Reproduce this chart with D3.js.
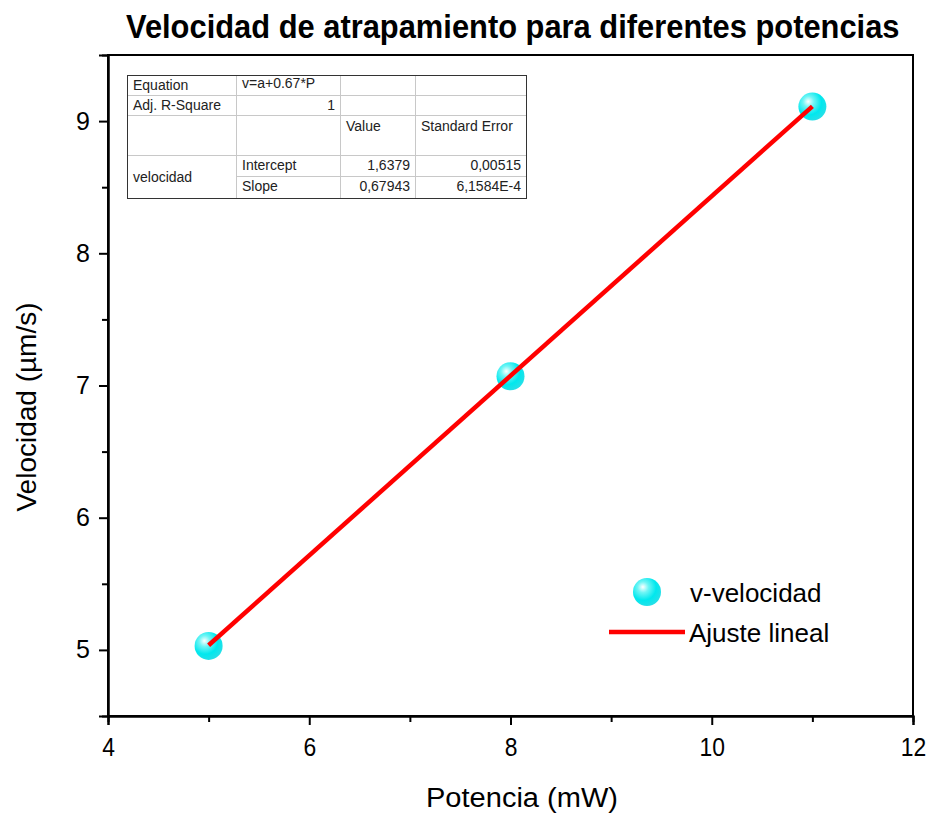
<!DOCTYPE html>
<html>
<head>
<meta charset="utf-8">
<script src="https://cdn.jsdelivr.net/npm/d3@7"></script>
<style>
  body { margin: 0; background: #fff; }
  text { font-family: "Liberation Sans", Arial, sans-serif; }
</style>
</head>
<body>
<div id="chart-area"></div>
<script>
// datos
var potencia = [5, 8, 11];
var velocidad = [5.03, 7.07, 9.11];
var intercepto = 1.6379;
var pendiente = 0.67943;
var xTicks = [4, 6, 8, 10, 12];
var yTicks = [5, 6, 7, 8, 9];
var tablaFilas = [
    ["Equation", "v=a+0.67*P", "", ""],
    ["Adj. R-Square", "1", "", ""],
    ["", "", "Value", "Standard Error"],
    ["velocidad", "Intercept", "1,6379", "0,00515"],
    ["", "Slope", "0,67943", "6,1584E-4"]
];

var margin = { top: 55, right: 18, bottom: 98, left: 108 };
var width = 931 - margin.left - margin.right;
var height = 814 - margin.top - margin.bottom;

var svg = d3.select("#chart-area")
    .append("svg")
        .attr("width", 931)
        .attr("height", 814);

// gradiente para las esferas
var grad = svg.append("defs").append("radialGradient")
    .attr("id", "esfera")
    .attr("cx", "38%").attr("cy", "35%").attr("r", "65%")
    .attr("fx", "35%").attr("fy", "32%");
grad.append("stop").attr("offset", "0%").attr("stop-color", "#ffffff");
grad.append("stop").attr("offset", "30%").attr("stop-color", "#6ff5f5");
grad.append("stop").attr("offset", "70%").attr("stop-color", "#00e8ee");
grad.append("stop").attr("offset", "100%").attr("stop-color", "#22e0e8");

var group = svg.append("g")
    .attr("transform", "translate(" + margin.left + ", " + margin.top + ")");

var x = d3.scaleLinear().domain([4, 12]).range([0, width]);
var y = d3.scaleLinear().domain([4.5, 9.5]).range([height, 0]);

// Titulo (estreitado com scale para imitar a fonte condensada)
var titulo = svg.append("text")
    .attr("font-size", "33px")
    .attr("font-weight", "bold")
    .text("Velocidad de atrapamiento para diferentes potencias");
var largura = titulo.node().getComputedTextLength();
titulo.attr("transform", "translate(126, 38) scale(" + (774 / largura) + ", 1)");

// Marco
group.append("rect")
    .attr("x", 0).attr("y", 0)
    .attr("width", width).attr("height", height)
    .attr("fill", "none")
    .attr("stroke", "#000")
    .attr("stroke-width", 2);

// Eixos
var xAxisCall = d3.axisBottom(x).tickValues(xTicks).tickSize(9).tickPadding(9).tickFormat(d3.format("d"));
var xAxisGroup = group.append("g")
    .attr("class", "x-axis")
    .attr("transform", "translate(0, " + height + ")")
    .call(xAxisCall);
var xMinor = d3.axisBottom(x).tickValues([5, 7, 9, 11]).tickSize(6).tickFormat("");
group.append("g").attr("transform", "translate(0, " + height + ")").call(xMinor);

var yAxisCall = d3.axisLeft(y).tickValues(yTicks).tickSize(9).tickPadding(9).tickFormat(d3.format("d"));
var yAxisGroup = group.append("g")
    .attr("class", "y-axis")
    .call(yAxisCall);
var yMinor = d3.axisLeft(y).tickValues([5.5, 6.5, 7.5, 8.5]).tickSize(6).tickFormat("");
group.append("g").call(yMinor);

group.selectAll(".domain").attr("stroke-width", 2);
group.selectAll(".tick line").attr("stroke-width", 2);
group.selectAll(".tick text")
    .attr("font-size", "26px")
    .attr("font-family", "'Liberation Sans', Arial, sans-serif")
    .attr("fill", "#000");
xAxisGroup.selectAll(".tick text")
    .attr("dy", "0.85em")
    .each(function() {
        var w = this.getComputedTextLength();
        d3.select(this).attr("textLength", w * 0.88).attr("lengthAdjust", "spacingAndGlyphs");
    });
yAxisGroup.selectAll(".tick text").attr("font-size", "25px");

// Labels
svg.append("text")
    .attr("x", 522)
    .attr("y", 807)
    .attr("text-anchor", "middle")
    .attr("font-size", "27px")
    .attr("textLength", 192)
    .attr("lengthAdjust", "spacingAndGlyphs")
    .text("Potencia (mW)");

svg.append("text")
    .attr("transform", "translate(36, 407) rotate(-90)")
    .attr("text-anchor", "middle")
    .attr("font-size", "28px")
    .text("Velocidad (µm/s)");

// Linha de ajuste
var xAjuste = [d3.min(potencia), d3.max(potencia)];

// Pontos
var dados = potencia.map(function(p, i) { return { p: p, v: velocidad[i] }; });
group.selectAll("circle.pt")
    .data(dados)
    .enter()
    .append("circle")
        .attr("class", "pt")
        .attr("cx", function(d) { return x(d.p); })
        .attr("cy", function(d) { return y(d.v); })
        .attr("r", 14)
        .attr("fill", "url(#esfera)");

// linha de ajuste por cima dos pontos (como no original)
group.append("line")
    .attr("x1", x(xAjuste[0]))
    .attr("y1", y(intercepto + pendiente * xAjuste[0]))
    .attr("x2", x(xAjuste[1]))
    .attr("y2", y(intercepto + pendiente * xAjuste[1]))
    .attr("stroke", "#ff0000")
    .attr("stroke-width", 4.5);

// Tabela
var colX = [127, 236, 340, 415, 526];
var rowY = [75, 95, 115, 155, 176, 198];
var tabela = svg.append("g").attr("font-size", "14px");
tabela.append("rect")
    .attr("x", colX[0]).attr("y", rowY[0])
    .attr("width", colX[4] - colX[0]).attr("height", rowY[5] - rowY[0])
    .attr("fill", "#fff");
// linhas internas
for (var i = 1; i < rowY.length - 1; i++) {
    var x0 = (i === 4) ? colX[1] : colX[0];
    tabela.append("line")
        .attr("x1", x0).attr("x2", colX[4])
        .attr("y1", rowY[i] + 0.5).attr("y2", rowY[i] + 0.5)
        .attr("stroke", "#c8c8c8");
}
for (var j = 1; j < colX.length - 1; j++) {
    tabela.append("line")
        .attr("x1", colX[j] + 0.5).attr("x2", colX[j] + 0.5)
        .attr("y1", rowY[0]).attr("y2", rowY[5])
        .attr("stroke", "#c8c8c8");
}
tabela.append("rect")
    .attr("x", colX[0] + 0.5).attr("y", rowY[0] + 0.5)
    .attr("width", colX[4] - colX[0]).attr("height", rowY[5] - rowY[0])
    .attr("fill", "none")
    .attr("stroke", "#333");

tablaFilas.forEach(function(fila, r) {
    fila.forEach(function(celda, c) {
        if (celda === "") return;
        var direita = (r === 1 && c === 1) || (r >= 3 && c >= 2);
        var yy = (r === 2) ? rowY[2] + 16 : rowY[r] + 15;
        if (r === 0 && c === 1) yy = rowY[0] + 13;
        if (r === 3 && c === 0) yy = rowY[3] + 27;
        tabela.append("text")
            .attr("x", direita ? colX[c + 1] - 5 : colX[c] + 6)
            .attr("y", yy)
            .attr("text-anchor", direita ? "end" : "start")
            .attr("fill", "#222")
            .text(celda);
    });
});

// Legenda
var legenda = svg.append("g");
legenda.append("circle")
    .attr("cx", 647).attr("cy", 592).attr("r", 14)
    .attr("fill", "url(#esfera)");
legenda.append("text")
    .attr("x", 690).attr("y", 602)
    .attr("font-size", "26px")
    .text("v-velocidad");
legenda.append("line")
    .attr("x1", 609).attr("x2", 685)
    .attr("y1", 632).attr("y2", 632)
    .attr("stroke", "#ff0000")
    .attr("stroke-width", 4.5);
legenda.append("text")
    .attr("x", 689).attr("y", 642)
    .attr("font-size", "26px")
    .text("Ajuste lineal");
</script>
</body>
</html>
